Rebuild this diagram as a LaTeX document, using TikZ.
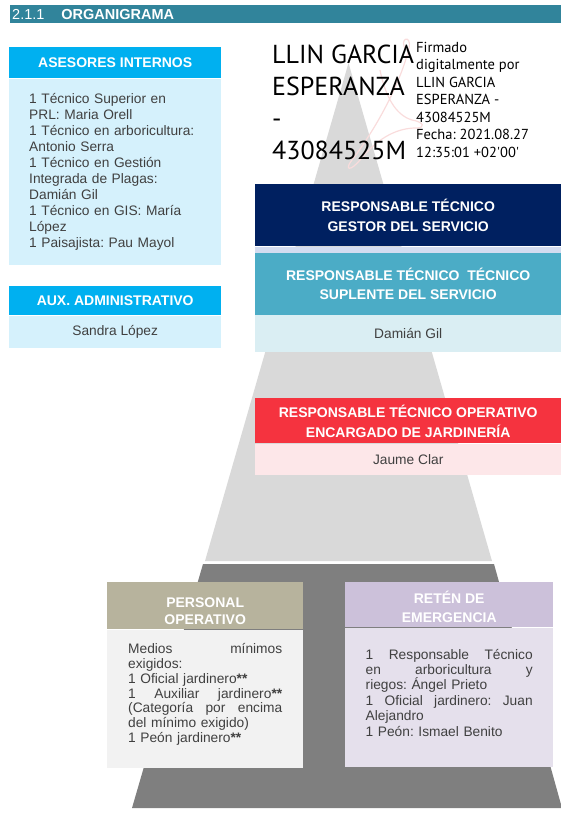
\documentclass[tikz,border=0pt]{standalone}
\usepackage{fontspec}
\setmainfont{Liberation Sans}
\newfontfamily\firmafont{PT Sans}
\usetikzlibrary{positioning}
\setlength{\parindent}{0pt}
\frenchspacing

\definecolor{barra}{HTML}{31849B}
\definecolor{cian}{HTML}{00B0F0}
\definecolor{cianclaro}{HTML}{D5F1FC}
\definecolor{marino}{HTML}{002060}
\definecolor{franja}{HTML}{D3DCF0}
\definecolor{turquesa}{HTML}{4BACC6}
\definecolor{turquesaclaro}{HTML}{DAEEF3}
\definecolor{rojo}{HTML}{F5333F}
\definecolor{rojoclaro}{HTML}{FDE7E9}
\definecolor{caqui}{HTML}{B7B39D}
\definecolor{grisfondo}{HTML}{F2F2F2}
\definecolor{lila}{HTML}{CCC1DA}
\definecolor{lilaclaro}{HTML}{E5E0EC}
\definecolor{grisclaro}{HTML}{D9D9D9}
\definecolor{grisoscuro}{HTML}{7F7F7F}
\definecolor{texto}{HTML}{404040}
\definecolor{rosa}{HTML}{F9DCDC}

\newcommand{\linea}[1]{\makebox[\hsize]{#1}}

\begin{document}
\begin{tikzpicture}[x=1pt,y=-1pt,
    cabecera/.style={fill=#1, text=white, inner sep=0pt, align=center,
        font=\bfseries\fontsize{14}{19.5}\selectfont},
    cuerpo/.style={fill=#1, text=texto, inner sep=0pt,
        font=\fontsize{13.75}{16}\selectfont}]
    \useasboundingbox (0,0) rectangle (561,816);

    % Titulo
    \node[anchor=north west, fill=barra, text=white, minimum height=18pt,
        text width=547pt, inner xsep=2pt, inner ysep=0pt, align=left,
        font=\fontsize{14.5}{14.5}\selectfont] (titulo) at (10,5)
        {2.1.1\hspace{17pt}\textbf{ORGANIGRAMA}};

    % Piramide
    \fill[grisclaro] (348.5,63) -- (492,561) -- (205,561) -- cycle;
    \fill[grisoscuro] (203,564) -- (494,564) -- (562,808) -- (132,808) -- cycle;

    % Firma (logo tenue detras)
    \draw[rosa, line width=1.2pt] (406,50) .. controls (398,38) and (412,34) .. (409,48)
        .. controls (400,85) and (375,130) .. (352,160)
        .. controls (344,170) and (350,172) .. (360,160)
        .. controls (380,135) and (400,128) .. (416,128)
        .. controls (426,128) and (424,122) .. (412,120)
        .. controls (395,115) and (385,95) .. (380,70);
    \node[anchor=north west, inner sep=0pt, align=left,
        font=\firmafont\fontsize{26}{32}\selectfont] (firmante) at (272,45)
        {LLIN GARCIA\\ESPERANZA\\-\\43084525M};
    \node[anchor=north west, inner sep=0pt, align=left,
        font=\firmafont\fontsize{14.5}{17.5}\selectfont] (firmado) at (416,42)
        {Firmado\\digitalmente por\\LLIN GARCIA\\ESPERANZA -\\43084525M\\Fecha: 2021.08.27\\12:35:01 +02'00'};

    % Columna izquierda
    \node[cabecera=cian, anchor=north west, minimum width=212pt,
        minimum height=31pt] (asesores) at (9,47) {ASESORES INTERNOS};
    \node[cuerpo=cianclaro, anchor=north, minimum width=212pt,
        minimum height=186pt, text width=172pt, align=left]
        (asesoresTxt) at (asesores.south)
        {1 Técnico Superior en\\PRL: Maria Orell\\1 Técnico en arboricultura:\\Antonio Serra\\1 Técnico en Gestión\\Integrada de Plagas:\\Damián Gil\\1 Técnico en GIS: María\\López\\1 Paisajista: Pau Mayol};

    \node[cabecera=cian, anchor=north west, minimum width=212pt,
        minimum height=29pt] (auxiliar) at (9,286) {AUX. ADMINISTRATIVO};
    \node[cuerpo=cianclaro, anchor=north, minimum width=212pt,
        minimum height=32pt] (auxiliarTxt) at (auxiliar.south) {Sandra López};

    % Columna derecha
    \node[cabecera=marino, anchor=north west, minimum width=306pt,
        minimum height=62pt] (gestor) at (255,184)
        {RESPONSABLE TÉCNICO\\GESTOR DEL SERVICIO};
    \node[fill=franja, anchor=north, minimum width=306pt, minimum height=6pt,
        inner sep=0pt] (franja) at (gestor.south) {};
    \node[cabecera=turquesa, anchor=north, minimum width=306pt,
        minimum height=62pt] (suplente) at (franja.south)
        {RESPONSABLE TÉCNICO\ \ TÉCNICO\\SUPLENTE DEL SERVICIO};
    \node[cuerpo=turquesaclaro, anchor=north, minimum width=306pt,
        minimum height=37pt] (suplenteTxt) at (suplente.south) {Damián Gil};

    \node[cabecera=rojo, anchor=north west, minimum width=306pt,
        minimum height=45pt] (operativo) at (255,398)
        {\rule{0pt}{14pt}RESPONSABLE TÉCNICO OPERATIVO\\ENCARGADO DE JARDINERÍA};
    \node[cuerpo=rojoclaro, anchor=north, minimum width=306pt,
        minimum height=31pt] (operativoTxt) at (operativo.south) {Jaume Clar};

    % Base
    \node[cabecera=caqui, anchor=north west, minimum width=196pt,
        minimum height=47pt, font=\bfseries\fontsize{14}{16.5}\selectfont]
        (personal) at (107,582) {\rule{0pt}{21pt}PERSONAL\\OPERATIVO};
    \node[cuerpo=grisfondo, anchor=north, minimum width=196pt,
        minimum height=138pt, text width=154pt, align=left,
        font=\fontsize{13.75}{14.3}\selectfont]
        (personalTxt) at (personal.south)
        {\linea{Medios\hfill mínimos}\\exigidos:\\[1pt]
        1 Oficial jardinero\textbf{**}\\[1pt]
        \linea{1\hfill Auxiliar\hfill jardinero\textbf{**}}\\
        \linea{(Categoría\hfill por\hfill encima}\\del mínimo exigido)\\[1pt]
        1 Peón jardinero\textbf{**}\rule[-11pt]{0pt}{1pt}};

    \node[cabecera=lila, anchor=north west, minimum width=208pt,
        minimum height=45pt, font=\bfseries\fontsize{14}{19}\selectfont]
        (reten) at (345,582) {\rule{0pt}{16pt}RETÉN DE\\EMERGENCIA};
    \node[cuerpo=lilaclaro, anchor=north, minimum width=208pt,
        minimum height=139pt, text width=167pt, align=left,
        font=\fontsize{13.75}{15}\selectfont]
        (retenTxt) at (reten.south)
        {\linea{1\hfill Responsable\hfill Técnico}\\
        \linea{en\hfill arboricultura\hfill y}\\riegos: Ángel Prieto\\[1pt]
        \linea{1\hfill Oficial\hfill jardinero:\hfill Juan}\\Alejandro\\[1pt]
        1 Peón: Ismael Benito\rule[-9pt]{0pt}{1pt}};
\end{tikzpicture}
\end{document}
